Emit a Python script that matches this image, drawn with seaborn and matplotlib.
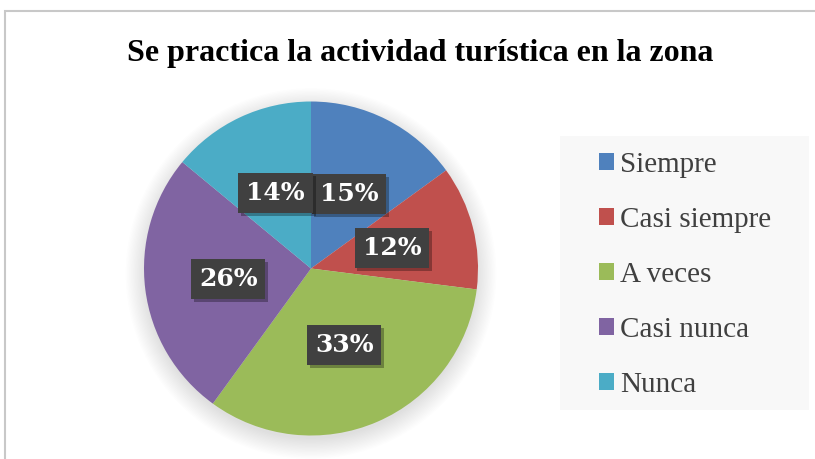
import matplotlib
matplotlib.use("Agg")
import matplotlib.pyplot as plt
import seaborn as sns
from matplotlib.patches import Rectangle, Circle
from matplotlib import patheffects as pe

categories = ["Siempre", "Casi siempre", "A veces", "Casi nunca", "Nunca"]
values = [15, 12, 33, 26, 14]
colors = ["#4F81BD", "#C0504D", "#9BBB59", "#8064A2", "#4BACC6"]
title = "Se practica la actividad turística en la zona"

sns.set_style("white")
plt.rcParams['font.family'] = ['Liberation Serif', 'DejaVu Serif']

W, H = 815, 459
fig = plt.figure(figsize=(W / 100, H / 100), dpi=100)
fig.patch.set_facecolor("white")

# outer chart frame
fig.add_artist(Rectangle((5 / W, -0.1), 1.0, 1 - 11 / H + 0.1, transform=fig.transFigure,
                         fill=False, ec="#c8c8c8", lw=1.5))

# legend background
fig.add_artist(Rectangle((560 / W, 1 - 410 / H), (809 - 560) / W, (410 - 136) / H,
                         transform=fig.transFigure, fc="#f8f8f8", ec="none"))

cx, cy, r = 311, H - 268.5, 167
L = 1.25
half = r * L
ax = fig.add_axes([(cx - half) / W, (cy - half) / H, 2 * half / W, 2 * half / H])
ax.axis("off")

# soft shadow
for i in range(16):
    ax.add_patch(Circle((0, -0.03), 0.99 + 0.008 * i, fc="black", ec="none",
                        alpha=0.009, zorder=0, clip_on=False))

wedges, texts, autotexts = ax.pie(
    values, colors=colors, startangle=90, counterclock=False, radius=1,
    autopct=lambda p: f"{p:.0f}%", pctdistance=0.50,
    wedgeprops=dict(linewidth=0),
    textprops=dict(color="white", fontsize=18, fontweight="bold", family="DejaVu Serif"),
)
ax.set_xlim(-L, L)
ax.set_ylim(-L, L)
ax.set_aspect("equal")
for w in wedges:
    w.set_zorder(2)
for t in autotexts:
    t.set_zorder(5)
    t.set_bbox(dict(boxstyle="square,pad=0.32", fc="#404040", ec="none"))
    t.get_bbox_patch().set_path_effects([
        pe.SimplePatchShadow(offset=(2, -2), shadow_rgbFace="black", alpha=0.3),
        pe.Normal()])

fig.legend(wedges, categories, loc="center left",
           bbox_to_anchor=(599 / W, 1 - 275 / H), bbox_transform=fig.transFigure,
           frameon=False, fontsize=21, labelcolor="#404040",
           handlelength=0.52, handleheight=0.52, handletextpad=0.2,
           labelspacing=1.0, borderpad=0, borderaxespad=0)

fig.text(420 / W, 1 - 53 / H, title, ha="center", va="center",
         fontsize=23, fontweight="bold", color="black")

fig.savefig("out.png", dpi=100)
